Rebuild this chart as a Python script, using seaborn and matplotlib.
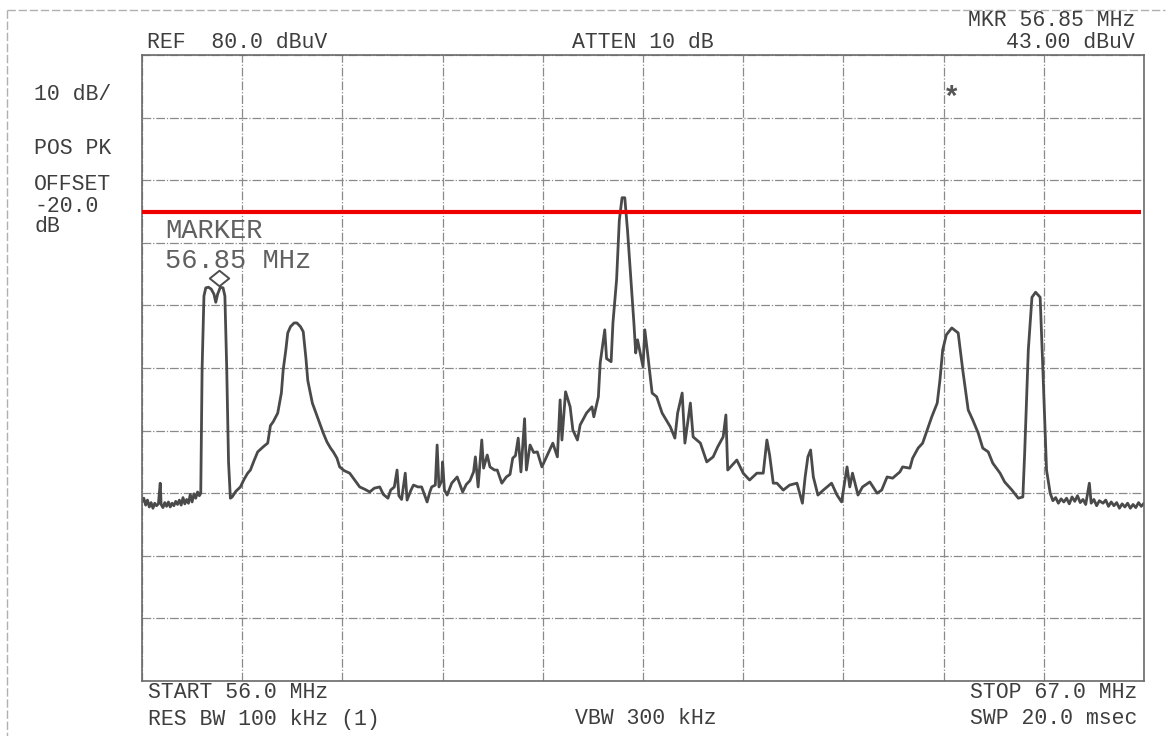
import matplotlib
matplotlib.use("Agg")
import matplotlib.pyplot as plt
from matplotlib.lines import Line2D
from matplotlib.path import Path
import matplotlib.transforms as mtransforms
import seaborn as sns
import pandas as pd

# Sweep settings
start_mhz = 56.0
stop_mhz = 67.0
ref_level = 80.0
db_per_div = 10.0
limit_level = 55.0
marker_freq = 56.85
marker_level = 43.00

# Trace (frequency in MHz, level in dBuV)
freq = [
    56.00, 56.02, 56.04, 56.06, 56.08, 56.10, 56.12, 56.14, 56.16, 56.18,
    56.20, 56.21, 56.23, 56.25, 56.27, 56.29, 56.31, 56.33, 56.35, 56.37,
    56.39, 56.41, 56.43, 56.45, 56.47, 56.49, 56.51, 56.53, 56.55, 56.57,
    56.59, 56.61, 56.63, 56.645, 56.66, 56.68, 56.70, 56.73, 56.76, 56.79,
    56.81, 56.83, 56.86, 56.89, 56.91, 56.93, 56.95, 56.97, 56.99, 57.03,
    57.08, 57.12, 57.16, 57.19, 57.23, 57.27, 57.33, 57.38, 57.41, 57.44,
    57.49, 57.53, 57.55, 57.58, 57.60, 57.63, 57.67, 57.70, 57.74, 57.77,
    57.80, 57.82, 57.87, 57.91, 57.95, 57.99, 58.03, 58.07, 58.10, 58.14,
    58.17, 58.22, 58.28, 58.34, 58.39, 58.45, 58.50, 58.55, 58.61, 58.65,
    58.70, 58.73, 58.77, 58.80, 58.82, 58.85, 58.89, 58.91, 58.95, 58.98,
    59.03, 59.07, 59.10, 59.13, 59.16, 59.18, 59.22, 59.24, 59.26, 59.29,
    59.30, 59.32, 59.35, 59.40, 59.46, 59.52, 59.56, 59.60, 59.64, 59.66,
    59.69, 59.73, 59.75, 59.79, 59.82, 59.87, 59.90, 59.95, 60.00, 60.04,
    60.07, 60.10, 60.13, 60.16, 60.20, 60.22, 60.26, 60.30, 60.34, 60.39,
    60.45, 60.51, 60.56, 60.59, 60.61, 60.65, 60.70, 60.73, 60.78, 60.81,
    60.88, 60.94, 60.96, 61.01, 61.03, 61.06, 61.08, 61.10, 61.12, 61.15,
    61.17, 61.21, 61.24, 61.27, 61.30, 61.33, 61.38, 61.40, 61.42, 61.44,
    61.50, 61.52, 61.55, 61.60, 61.65, 61.71, 61.80, 61.85, 61.88, 61.93,
    61.96, 62.02, 62.05, 62.13, 62.20, 62.27, 62.32, 62.38, 62.41, 62.43,
    62.53, 62.60, 62.67, 62.75, 62.82, 62.86, 62.89, 62.93, 62.97, 63.04,
    63.11, 63.19, 63.25, 63.28, 63.31, 63.34, 63.37, 63.42, 63.48, 63.57,
    63.63, 63.68, 63.74, 63.77, 63.80, 63.86, 63.91, 63.99, 64.07, 64.12,
    64.18, 64.24, 64.32, 64.35, 64.43, 64.46, 64.52, 64.57, 64.62, 64.67,
    64.73, 64.76, 64.79, 64.83, 64.89, 64.96, 65.01, 65.07, 65.12, 65.18,
    65.23, 65.29, 65.34, 65.42, 65.47, 65.55, 65.62, 65.67, 65.69, 65.73,
    65.77, 65.81, 65.86, 65.89, 65.93, 65.97, 66.00, 66.03, 66.06, 66.09,
    66.12, 66.15, 66.18, 66.21, 66.24, 66.27, 66.30, 66.33, 66.36, 66.40,
    66.42, 66.45, 66.48, 66.51, 66.55, 66.58, 66.61, 66.64, 66.67, 66.70,
    66.73, 66.76, 66.79, 66.82, 66.85, 66.88, 66.91, 66.94, 66.97, 67.00,
]
level = [
    8.6, 9.2, 8.1, 8.9, 7.8, 8.5, 7.6, 8.4, 8.0, 8.3,
    11.6, 8.2, 7.7, 8.5, 7.9, 8.6, 7.8, 8.4, 8.0, 8.7,
    8.2, 8.9, 8.1, 9.3, 8.3, 9.0, 8.4, 9.8, 8.6, 9.9,
    9.2, 10.2, 9.6, 10.0, 30.0, 41.5, 42.8, 42.9, 42.6, 41.8,
    40.5, 41.8, 42.9, 42.8, 41.5, 30.0, 15.0, 9.2, 9.4, 10.3,
    11.0, 12.2, 13.2, 13.7, 15.2, 16.6, 17.4, 18.0, 20.8, 21.4,
    22.8, 26.0, 29.7, 33.0, 35.6, 36.6, 37.2, 37.2, 36.6, 35.8,
    31.5, 28.0, 24.4, 22.8, 21.2, 19.6, 18.2, 17.2, 16.6, 15.6,
    14.2, 13.6, 13.2, 12.0, 11.0, 10.6, 10.2, 10.8, 11.0, 9.8,
    9.2, 10.5, 11.0, 13.7, 9.6, 9.0, 13.2, 8.9, 10.4, 11.3,
    11.0, 11.0, 9.8, 8.6, 10.2, 11.0, 11.3, 17.7, 11.0, 12.0,
    15.0, 10.5, 9.7, 11.6, 12.6, 10.2, 11.4, 12.0, 13.4, 15.8,
    11.0, 18.5, 14.0, 16.1, 14.2, 13.7, 13.7, 11.6, 12.6, 13.0,
    15.6, 16.0, 18.8, 13.4, 21.9, 13.7, 17.7, 16.5, 16.6, 14.2,
    16.1, 18.0, 15.8, 24.9, 18.5, 26.2, 23.8, 20.1, 18.5, 20.9,
    22.8, 23.8, 22.2, 25.4, 30.8, 34.0, 36.1, 31.5, 31.3, 31.0,
    37.2, 44.1, 53.6, 57.2, 57.2, 52.0, 41.3, 37.2, 32.4, 34.5,
    30.2, 36.1, 32.4, 26.0, 25.4, 22.8, 20.6, 18.8, 22.8, 26.0,
    18.0, 24.4, 19.0, 18.0, 15.0, 15.8, 17.4, 19.0, 22.5, 13.7,
    15.3, 13.2, 12.1, 13.2, 13.2, 18.5, 16.1, 11.6, 11.6, 10.5,
    11.3, 11.6, 8.4, 12.6, 15.8, 16.9, 12.6, 9.7, 10.5, 11.6,
    9.7, 8.6, 14.2, 11.0, 13.2, 9.7, 11.0, 11.8, 10.0, 10.5,
    12.6, 12.4, 13.4, 14.2, 14.0, 15.6, 17.2, 18.0, 20.1, 22.2,
    24.4, 28.1, 32.9, 35.3, 36.4, 35.6, 29.7, 23.3, 21.7, 19.6,
    17.2, 16.6, 14.8, 13.2, 11.8, 10.5, 9.2, 9.4, 16.4, 32.9,
    41.3, 42.1, 41.3, 29.7, 13.7, 10.0, 8.8, 9.3, 8.4, 9.1,
    8.6, 9.2, 8.3, 9.4, 8.7, 9.6, 8.5, 9.0, 8.2, 11.6,
    8.4, 9.0, 8.0, 8.8, 8.4, 8.9, 7.9, 8.6, 8.0, 8.5,
    7.6, 8.3, 7.8, 8.4, 7.6, 8.2, 7.7, 8.5, 7.9, 8.4,
]

top_left_labels = ["REF  80.0 dBuV", "ATTEN 10 dB"]
marker_readout = ["MKR 56.85 MHz", "43.00 dBuV"]
side_labels = ["10 dB/", "POS PK", "OFFSET", "-20.0", "dB"]
bottom_labels = ["START 56.0 MHz", "RES BW 100 kHz (1)", "VBW 300 kHz",
                 "STOP 67.0 MHz", "SWP 20.0 msec"]
marker_caption = ["MARKER", "56.85 MHz"]

df = pd.DataFrame({"freq": freq, "level": level})

sns.set_theme(style="white")
plt.rcParams["font.family"] = ["Liberation Mono", "DejaVu Sans Mono"]

W, H = 1172, 736
fig = plt.figure(figsize=(W / 100, H / 100), dpi=100)
fig.patch.set_facecolor("white")
ax = fig.add_axes([142 / W, 1 - 681 / H, (1144 - 142) / W, (681 - 55) / H])
ax.set_facecolor("white")

n_div = 10
bottom_level = ref_level - n_div * db_per_div
ax.set_xlim(start_mhz, stop_mhz)
ax.set_ylim(bottom_level, ref_level)
step = (stop_mhz - start_mhz) / n_div
ax.set_xticks([start_mhz + i * step for i in range(n_div + 1)])
ax.set_yticks([bottom_level + i * db_per_div for i in range(n_div + 1)])
ax.tick_params(length=0, labelbottom=False, labelleft=False)
ax.grid(True, color="#8a8a8a", linewidth=0.9, linestyle=(0, (7, 1.5, 1, 1.5)))
for sp in ax.spines.values():
    sp.set_color("#6a6a6a")
    sp.set_linewidth(1.2)

sns.lineplot(data=df, x="freq", y="level", ax=ax, sort=False, estimator=None,
             color="#4a4a4a", linewidth=2.0)
ax.set_xlabel("")
ax.set_ylabel("")

# Limit line
ax.plot([start_mhz, stop_mhz - 0.03], [limit_level, limit_level],
        color="#ee0000", linewidth=3.0, solid_capstyle="butt", zorder=5)

# Marker diamond just above the marked point
diamond = Path([(-1, 0), (0, 0.8), (1, 0), (0, -0.8), (-1, 0)],
               [Path.MOVETO, Path.LINETO, Path.LINETO, Path.LINETO, Path.CLOSEPOLY])
up = mtransforms.offset_copy(ax.transData, fig=fig, x=0, y=6.5, units="points")
ax.plot([marker_freq], [marker_level], marker=diamond, markersize=14,
        markerfacecolor="white", markeredgecolor="#4d4d4d", markeredgewidth=1.4,
        linestyle="none", transform=up, zorder=6)
ax.text(64.89, 73.0, "*", ha="center", va="center", fontsize=21,
        fontweight="bold", color="#555555")

txt = dict(color="#3e3e3e", fontsize=15.5)


def put(x, y, s, **kw):
    d = dict(txt)
    d.update(kw)
    fig.text(x / W, 1 - y / H, s, **d)


put(147, 42, top_left_labels[0], va="center")
put(572, 42, top_left_labels[1], va="center")
put(1135, 20, marker_readout[0], va="center", ha="right")
put(1135, 42, marker_readout[1], va="center", ha="right")
put(34, 95, side_labels[0], va="center")
put(34, 148, side_labels[1], va="center")
put(34, 185, side_labels[2], va="center")
put(34, 206, side_labels[3], va="center")
put(34, 227, side_labels[4], va="center")
put(148, 693, bottom_labels[0], va="center")
put(148, 719, bottom_labels[1], va="center")
put(575, 719, bottom_labels[2], va="center")
put(1137, 693, bottom_labels[3], va="center", ha="right")
put(1137, 719, bottom_labels[4], va="center", ha="right")
put(165, 231, marker_caption[0], va="center", fontsize=19.5, color="#606060")
put(165, 261, marker_caption[1], va="center", fontsize=19.5, color="#606060")

# Faint page border
border = dict(color="#b0b0b0", linewidth=1.0, linestyle=(0, (6, 2)))
fig.add_artist(Line2D([7 / W, 1165 / W], [1 - 10 / H, 1 - 10 / H], **border))
fig.add_artist(Line2D([7 / W, 7 / W], [1 - 10 / H, 0], **border))

fig.savefig("out.png", dpi=100, facecolor="white")
